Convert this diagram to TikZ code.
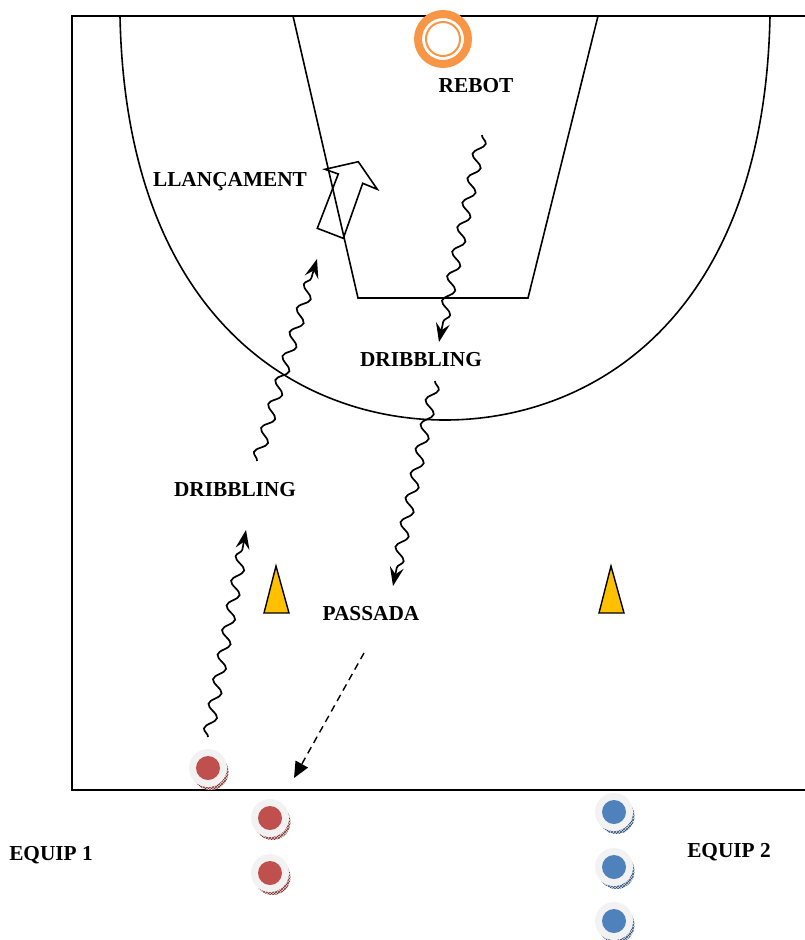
\documentclass[tikz,border=0pt]{standalone}
\usepackage{fontspec}
\setmainfont{Liberation Serif}
\usetikzlibrary{arrows.meta,decorations.pathmorphing,patterns}
\definecolor{aro}{RGB}{247,150,70}
\definecolor{groc}{RGB}{255,192,0}
\definecolor{vermell}{RGB}{192,80,77}
\definecolor{blau}{RGB}{79,129,189}
\tikzset{
  etiqueta/.style={font=\fontsize{21.3}{25}\selectfont\bfseries, inner sep=0pt},
  driblatge/.style={-{Stealth[length=19pt,width=14pt,inset=7pt]}, line width=1.7pt,
    decorate, decoration={snake, amplitude=5.5pt, segment length=25pt, post length=18pt}},
  passe/.style={dash pattern=on 7pt off 5pt, line width=1.4pt, -{Triangle[length=16pt,width=14pt]}},
  con/.style={fill=groc, draw=black, line width=1.4pt},
}
\newcommand{\jugador}[3]{%
  \begin{scope}[shift={(#2)}]
  \fill[#3!25] (2.5,4) circle (18);
  \fill[pattern=crosshatch, pattern color=#3!60!black] (2.5,4) circle (18);
  \fill[gray!10] (0,0) circle (19);
  \fill[#3] (0,0) circle (12);
  \coordinate (#1) at (0,0);
  \end{scope}}
\begin{document}
\begin{tikzpicture}[x=1pt,y=-1pt]
\useasboundingbox (0,0) rectangle (805,940);
% pista
\draw[line width=2] (806,16) -- (72,16) -- (72,790) -- (806,790);
\draw[line width=1.6] (120,16) .. controls (126,320) and (300,420) .. (445,420)
  .. controls (590,420) and (764,320) .. (770,16);
\draw[line width=1.6] (293,16) -- (358,298) -- (528,298) -- (598,16);
% cistella
\draw[aro, line width=8, fill=white] (443,39) circle (25);
\draw[aro, line width=2] (443,39) circle (17);
% llancament
\draw[line width=1.6] (325,169.3) -- (358.3,161.7) -- (377.3,189.3) -- (362.7,183.3) -- (343.3,238.3) -- (317.3,228.3) -- (338.3,174) -- cycle;
% cons
\draw[con] (276,566) -- (289,613) -- (264,613) -- cycle;
\draw[con] (611,566) -- (624,613) -- (599,613) -- cycle;
% jugadors
\jugador{a1}{208,768}{vermell}
\jugador{a2}{270,818}{vermell}
\jugador{a3}{270,873}{vermell}
\jugador{b1}{614,812}{blau}
\jugador{b2}{614,867}{blau}
\jugador{b3}{614,921}{blau}
% textos
\node[etiqueta] (rebot) at (476,86) {REBOT};
\node[etiqueta] (llancament) at (230,182) {LLANÇAMENT};
\node[etiqueta] (dribbling1) at (421,360) {DRIBBLING};
\node[etiqueta] (dribbling2) at (235,490) {DRIBBLING};
\node[etiqueta] (passada) at (371,614) {PASSADA};
\node[etiqueta] (equip1) at (51,855) {EQUIP 1};
\node[etiqueta] (equip2) at (729,852) {EQUIP 2};
% recorreguts
\coordinate (d1a) at (208,737);
\coordinate (d1b) at (246,530);
\coordinate (d2a) at (257,461);
\coordinate (d2b) at (317,259);
\coordinate (d3a) at (482,135);
\coordinate (d3b) at (439,342);
\coordinate (d4a) at (435,381);
\coordinate (d4b) at (393,586);
\coordinate (pa) at (364,653);
\coordinate (pb) at (294,778);
\draw[driblatge] (d1a) -- (d1b);
\draw[driblatge] (d2a) -- (d2b);
\draw[driblatge] (d3a) -- (d3b);
\draw[driblatge] (d4a) -- (d4b);
\draw[passe] (pa) -- (pb);
\end{tikzpicture}
\end{document}
